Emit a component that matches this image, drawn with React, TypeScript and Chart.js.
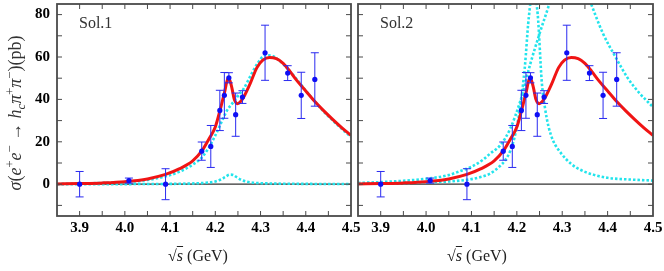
import React, { useEffect, useRef } from "react";
import { Chart, registerables } from "chart.js";

Chart.register(...registerables);

// ---------- axis ticks ----------
const xTicks = [3.9, 4.0, 4.1, 4.2, 4.3, 4.4, 4.5];
const xMinorTicks = [3.9, 3.95, 4.0, 4.05, 4.1, 4.15, 4.2, 4.25, 4.3, 4.35, 4.4, 4.45];
const yTicks = [0, 20, 40, 60, 80];
const yMinorTicks = [-10, 0, 10, 20, 30, 40, 50, 60, 70, 80];
const X_MIN = 3.85;
const X_MAX = 4.5;
const Y_MIN = -15;
const Y_MAX = 85;

// ---------- measured data ----------
const dataX = [3.9, 4.009, 4.09, 4.17, 4.19, 4.21, 4.22, 4.23, 4.245, 4.26, 4.31, 4.36, 4.39, 4.42];
const dataY = [0, 1.7, 0, 15.6, 17.8, 34.8, 41.9, 50.2, 32.8, 41.1, 62, 52.4, 41.9, 49.4];
const dataErr = [6, 1.2, 7.3, 4.3, 9.9, 9.5, 10.8, 2.4, 10.2, 3, 13, 3.5, 10.9, 12.6];

// ---------- total fit (red) ----------
const fitX = [3.85, 3.9, 3.95, 4.0, 4.05, 4.09, 4.12, 4.15, 4.171, 4.185, 4.2, 4.21, 4.22, 4.229, 4.236, 4.242, 4.249, 4.256, 4.265, 4.277, 4.292, 4.305, 4.32, 4.335, 4.35, 4.365, 4.38, 4.4, 4.42, 4.44, 4.46, 4.48, 4.5];
const fitY = [0.1, 0.3, 0.6, 1.2, 2.5, 4.6, 7.2, 11, 15.9, 21, 27, 34.5, 43, 50.3, 46, 40, 38, 39, 42, 47.4, 55, 58.5, 59.8, 59.2, 57, 53.2, 49, 44, 39, 34.6, 30.5, 26.6, 23];

// ---------- Sol.1 components (cyan) ----------
const sol1BigX = [3.85, 3.9, 3.95, 4.0, 4.05, 4.09, 4.12, 4.15, 4.171, 4.185, 4.2, 4.213, 4.226, 4.24, 4.251, 4.262, 4.28, 4.295, 4.31, 4.325, 4.34, 4.36, 4.38, 4.4, 4.42, 4.44, 4.46, 4.48, 4.5];
const sol1BigY = [0.1, 0.3, 0.6, 1.0, 2.0, 3.7, 5.8, 9.2, 12.8, 17, 23, 29, 34.8, 38.8, 41.9, 44.8, 52, 57.5, 60.8, 60.6, 58.6, 54.5, 49.5, 44.2, 39, 34.2, 30, 26, 22.3];
const sol1SmallX = [3.85, 4.0, 4.1, 4.15, 4.18, 4.2, 4.212, 4.222, 4.232, 4.24, 4.248, 4.258, 4.27, 4.29, 4.32, 4.4, 4.5];
const sol1SmallY = [0, 0.05, 0.15, 0.35, 0.7, 1.3, 2.2, 3.4, 4.5, 4.3, 3.2, 2.0, 1.2, 0.6, 0.35, 0.15, 0.08];

// ---------- Sol.2 components (cyan) ----------
const sol2NarrowX = [3.85, 3.9, 4.0, 4.05, 4.075, 4.1, 4.12, 4.14, 4.16, 4.175, 4.186, 4.197, 4.207, 4.2175, 4.226, 4.236, 4.246, 4.255, 4.262, 4.27, 4.28, 4.296, 4.32, 4.34, 4.37, 4.4, 4.45, 4.5];
const sol2NarrowY = [0.2, 0.35, 0.85, 1.3, 1.7, 2.4, 3.4, 4.9, 8, 11.5, 16, 24, 36, 55, 78, 92, 80, 48, 36, 27, 20.5, 15, 9.5, 6.8, 4.4, 3.0, 2.2, 1.7];
const sol2BroadX = [3.85, 3.9, 3.95, 4.0, 4.05, 4.075, 4.1, 4.125, 4.141, 4.164, 4.185, 4.208, 4.23, 4.25, 4.27, 4.29, 4.315, 4.34, 4.36, 4.39, 4.42, 4.443, 4.47, 4.5];
const sol2BroadY = [0.6, 1.0, 1.6, 2.6, 4.3, 6.2, 8.2, 11.5, 14.4, 18.5, 26, 39.5, 57, 71, 84, 98, 108, 98, 87, 71, 59, 50.5, 43, 36.4];

// ---------- text ----------
const panelLabels = ["Sol.1", "Sol.2"];
const yTitleParts = [
  { t: "σ", s: "i" },
  { t: "(", s: "n" },
  { t: "e", s: "i" },
  { t: "+", s: "sup" },
  { t: "e", s: "i" },
  { t: "−", s: "sup" },
  { t: " → ", s: "n" },
  { t: "h", s: "i" },
  { t: "c", s: "sub" },
  { t: "π", s: "i" },
  { t: "+", s: "sup" },
  { t: "π", s: "i" },
  { t: "−", s: "sup" },
  { t: ")(pb)", s: "n" },
];

// ---------- styles ----------
const SERIF = "'Liberation Serif', 'Times New Roman', serif";
const RED = "#f01414";
const CYAN = "#22e4ec";
const BLUE = "#0f0ff5";
const BAR = "#2a2af0";
const FRAME = "#4a4a4a";

Chart.defaults.font.family = SERIF;

const pairs = (xs: number[], ys: number[]) => xs.map((x, i) => ({ x, y: ys[i] }));

function makePlugins(panel: number) {
  const zeroLine = {
    id: "zeroLine",
    beforeDatasetsDraw(chart: any) {
      const { ctx, chartArea: a, scales } = chart;
      const y0 = scales.y.getPixelForValue(0);
      ctx.save();
      ctx.strokeStyle = "#333";
      ctx.lineWidth = 1.2;
      ctx.beginPath();
      ctx.moveTo(a.left, y0);
      ctx.lineTo(a.right, y0);
      ctx.stroke();
      ctx.restore();
    },
  };
  const errorBars = {
    id: "errorBars",
    beforeDatasetDraw(chart: any, args: any) {
      if (args.index !== 0) return;
      const { ctx, scales } = chart;
      ctx.save();
      ctx.strokeStyle = BAR;
      ctx.lineWidth = 1;
      dataX.forEach((v, i) => {
        const px = scales.x.getPixelForValue(v);
        const t = scales.y.getPixelForValue(dataY[i] + dataErr[i]);
        const b = scales.y.getPixelForValue(dataY[i] - dataErr[i]);
        ctx.beginPath();
        ctx.moveTo(px, t);
        ctx.lineTo(px, b);
        ctx.moveTo(px - 4, t);
        ctx.lineTo(px + 4, t);
        ctx.moveTo(px - 4, b);
        ctx.lineTo(px + 4, b);
        ctx.stroke();
      });
      ctx.restore();
    },
  };
  const frame = {
    id: "frame",
    afterDraw(chart: any) {
      const { ctx, chartArea: a, scales } = chart;
      ctx.save();
      ctx.strokeStyle = FRAME;
      ctx.lineWidth = 1;
      const L = 5;
      ctx.beginPath();
      xMinorTicks.forEach((v) => {
        const px = scales.x.getPixelForValue(v);
        ctx.moveTo(px, a.top);
        ctx.lineTo(px, a.top + L);
        ctx.moveTo(px, a.bottom);
        ctx.lineTo(px, a.bottom - L);
      });
      yMinorTicks.forEach((v) => {
        const py = scales.y.getPixelForValue(v);
        ctx.moveTo(a.left, py);
        ctx.lineTo(a.left + L, py);
        ctx.moveTo(a.right, py);
        ctx.lineTo(a.right - L, py);
      });
      ctx.stroke();
      ctx.lineWidth = 1.8;
      ctx.strokeRect(a.left, a.top, a.right - a.left, a.bottom - a.top);
      // panel label
      ctx.fillStyle = "#333";
      ctx.font = `16px ${SERIF}`;
      ctx.textBaseline = "alphabetic";
      ctx.textAlign = "left";
      ctx.fillText(panelLabels[panel], a.left + 22, a.top + 24);
      // y title on the first panel
      if (panel === 0) {
        const size = 18;
        const fontFor = (s: string) => {
          const it = s === "i" || s === "sub" ? "italic " : "";
          const sz = s === "sup" || s === "sub" ? size * 0.7 : size;
          return `${it}${sz}px ${SERIF}`;
        };
        let w = 0;
        yTitleParts.forEach((p) => {
          ctx.font = fontFor(p.s);
          w += ctx.measureText(p.t).width;
        });
        ctx.translate(21, (a.top + a.bottom) / 2 + 3);
        ctx.rotate(-Math.PI / 2);
        let cx = -w / 2;
        yTitleParts.forEach((p) => {
          ctx.font = fontFor(p.s);
          const dy = p.s === "sup" ? -size * 0.4 : p.s === "sub" ? size * 0.22 : 0;
          ctx.fillText(p.t, cx, dy);
          cx += ctx.measureText(p.t).width;
        });
      }
      ctx.restore();
    },
  };
  return [zeroLine, errorBars, frame];
}

function makeConfig(panel: number): any {
  const comps =
    panel === 0
      ? [pairs(sol1BigX, sol1BigY), pairs(sol1SmallX, sol1SmallY)]
      : [pairs(sol2NarrowX, sol2NarrowY), pairs(sol2BroadX, sol2BroadY)];
  return {
    type: "line",
    data: {
      datasets: [
        {
          label: "data",
          data: pairs(dataX, dataY),
          showLine: false,
          pointRadius: 2.6,
          pointBackgroundColor: BLUE,
          pointBorderWidth: 0,
          order: 0,
        },
        {
          label: "fit",
          data: pairs(fitX, fitY),
          borderColor: RED,
          borderWidth: 3,
          pointRadius: 0,
          cubicInterpolationMode: "monotone",
          clip: 0,
          order: 1,
        },
        ...comps.map((d, i) => ({
          label: "comp" + i,
          data: d,
          borderColor: CYAN,
          borderWidth: 2.6,
          borderDash: [2.5, 2],
          pointRadius: 0,
          cubicInterpolationMode: "monotone",
          clip: 0,
          order: 2,
        })),
      ],
    },
    options: {
      animation: false,
      responsive: false,
      devicePixelRatio: 1,
      layout: { padding: panel === 0 ? { top: 3, right: 11, left: 0, bottom: 0 } : { top: 3, right: 11, left: 18, bottom: 0 } },
      plugins: { legend: { display: false }, tooltip: { enabled: false } },
      scales: {
        x: {
          type: "linear",
          min: X_MIN,
          max: X_MAX,
          grid: { display: false, drawTicks: false },
          border: { display: false },
          afterBuildTicks: (s: any) => {
            s.ticks = xTicks.map((v) => ({ value: v }));
          },
          afterFit: (s: any) => {
            s.height = 55;
            s.paddingLeft = 0;
            s.paddingRight = 0;
          },
          ticks: {
            autoSkip: false,
            maxRotation: 0,
            padding: 3,
            color: "#000",
            font: { family: "Liberation Serif", size: 15, weight: "bold" },
            callback: (v: any) => Number(v).toFixed(1),
          },
        },
        y: {
          type: "linear",
          display: panel === 0,
          min: Y_MIN,
          max: Y_MAX,
          grid: { display: false, drawTicks: false },
          border: { display: false },
          afterBuildTicks: (s: any) => {
            s.ticks = yTicks.map((v) => ({ value: v }));
          },
          afterFit: (s: any) => {
            if (panel === 0) s.width = 57;
            s.paddingTop = 0;
            s.paddingBottom = 0;
          },
          ticks: {
            padding: 7,
            color: "#000",
            font: { family: "Liberation Serif", size: 15, weight: "bold" },
            callback: (v: any) => String(v),
          },
        },
      },
    },
    plugins: makePlugins(panel),
  };
}

function Panel({ panel, left, width }: { panel: number; left: number; width: number }) {
  const ref = useRef<HTMLCanvasElement>(null);
  useEffect(() => {
    const chart = new Chart(ref.current as HTMLCanvasElement, makeConfig(panel));
    return () => chart.destroy();
  }, [panel]);
  return (
    <canvas
      ref={ref}
      width={width}
      height={271}
      style={{ position: "absolute", left, top: 0, width, height: 271 }}
    />
  );
}

function XTitle({ cx }: { cx: number }) {
  return (
    <div
      style={{
        position: "absolute",
        left: cx,
        top: 246,
        transform: "translateX(-50%)",
        whiteSpace: "nowrap",
        fontFamily: SERIF,
        fontSize: 16,
        lineHeight: "20px",
        color: "#222",
      }}
    >
      √<span style={{ fontStyle: "italic", textDecoration: "overline" }}>s</span> (GeV)
    </div>
  );
}

export default function App() {
  return (
    <div style={{ position: "absolute", left: 0, top: 0, width: 664, height: 271, background: "#fff", overflow: "hidden" }}>
      <Panel panel={0} left={0} width={362} />
      <Panel panel={1} left={340} width={324} />
      <XTitle cx={198} />
      <XTitle cx={477} />
    </div>
  );
}
